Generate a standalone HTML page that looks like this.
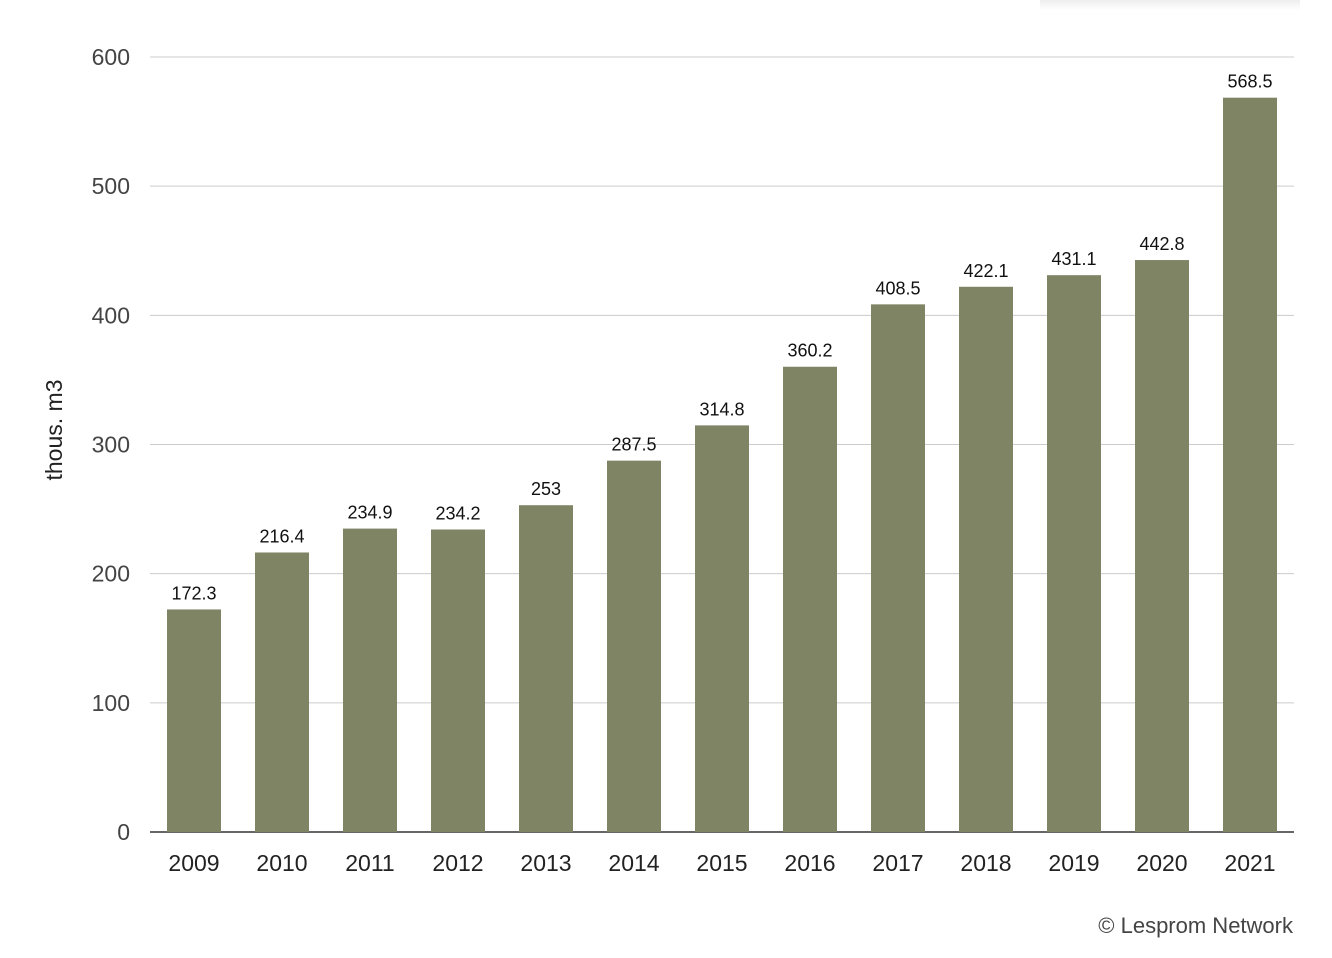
<!DOCTYPE html>
<html><head><meta charset="utf-8"><style>
html,body{margin:0;padding:0;background:#fff;}
svg{display:block;font-family:"Liberation Sans",Arial,sans-serif;}
</style></head><body>
<svg id="chart" width="1332" height="958" viewBox="0 0 1332 958">
<defs><linearGradient id="sh" x1="0" y1="0" x2="0" y2="1"><stop offset="0" stop-color="#eee"/><stop offset="1" stop-color="#fff"/></linearGradient></defs>
<rect x="1040" y="0" width="260" height="10" fill="url(#sh)"/>
<g id="grid"></g><g id="bars"></g><g id="labels"></g>
<text x="62" y="430" transform="rotate(-90 62 430)" text-anchor="middle" font-size="23" fill="#222">thous. m3</text>
<text x="1293" y="933" text-anchor="end" font-size="22" fill="#444">© Lesprom Network</text>
</svg>
<script>
const categories=["2009","2010","2011","2012","2013","2014","2015","2016","2017","2018","2019","2020","2021"];
const values=[172.3,216.4,234.9,234.2,253,287.5,314.8,360.2,408.5,422.1,431.1,442.8,568.5];
const valueLabels=["172.3","216.4","234.9","234.2","253","287.5","314.8","360.2","408.5","422.1","431.1","442.8","568.5"];
const yTicks=[0,100,200,300,400,500,600];
const NS="http://www.w3.org/2000/svg";
const x0=150,x1=1294,yBase=832,yTop=57,yMax=600;
const band=(x1-x0)/categories.length,bw=54;
const y=v=>yBase-(v/yMax)*(yBase-yTop);
const xb=i=>x0+i*band+(band-bw)/2;
function mk(t,a,p){const e=document.createElementNS(NS,t);for(const k in a)e.setAttribute(k,a[k]);p.appendChild(e);return e;}
const g=document.getElementById('grid'),b=document.getElementById('bars'),l=document.getElementById('labels');
yTicks.forEach(t=>{
 const ln=mk('line',{x1:x0,x2:x1,y1:y(t),y2:y(t),stroke:t===0?'#333':'#ccc','stroke-width':t===0?1.5:1},g);
 
 
 const tx=mk('text',{x:130,y:y(t)+8,'text-anchor':'end','font-size':23,fill:'#444'},g);tx.textContent=t;
 
 
});
categories.forEach((c,i)=>{
 const r=mk('rect',{x:xb(i),y:y(values[i]),width:bw,height:yBase-y(values[i]),fill:'#7f8465'},b);
 
 
 const v=mk('text',{x:xb(i)+bw/2,y:y(values[i])-10,'text-anchor':'middle','font-size':18,fill:'#111'},l);v.textContent=valueLabels[i];
 
 
 const xt=mk('text',{x:xb(i)+bw/2,y:871,'text-anchor':'middle','font-size':23,fill:'#222'},l);xt.textContent=c;
 
 
});
</script>
</body></html>
